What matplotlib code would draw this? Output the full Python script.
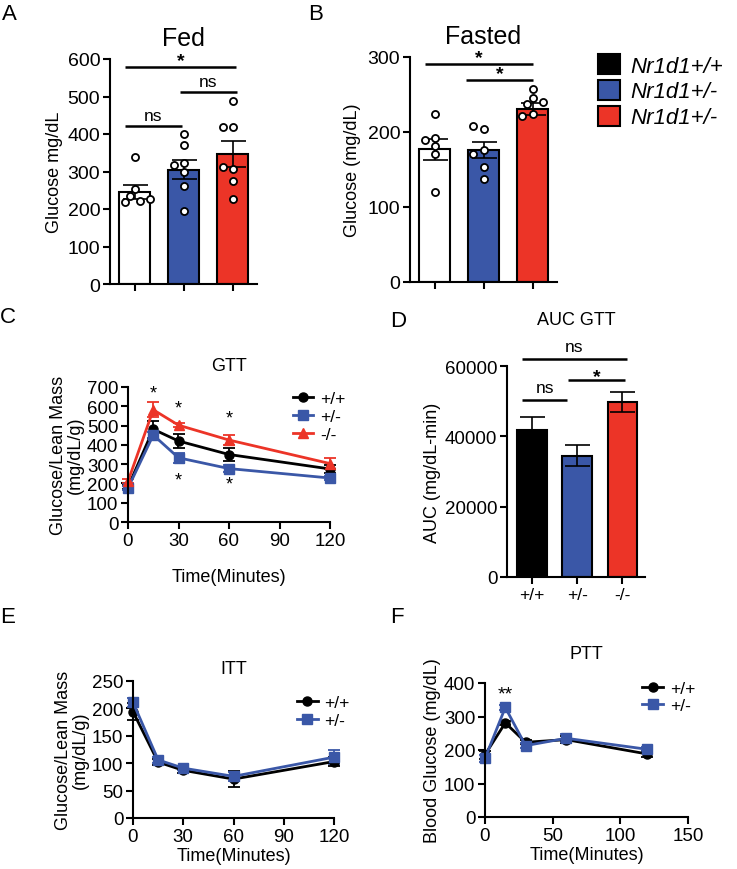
import numpy as np
import matplotlib
matplotlib.use("Agg")
import matplotlib.pyplot as plt
from matplotlib.patches import Patch
from matplotlib.lines import Line2D

plt.rcParams["font.family"] = ["Liberation Sans", "DejaVu Sans"]
plt.rcParams["axes.linewidth"] = 1.5
plt.rcParams["xtick.major.width"] = 1.5
plt.rcParams["ytick.major.width"] = 1.5
plt.rcParams["xtick.major.size"] = 5
plt.rcParams["ytick.major.size"] = 5

BLUE = "#3A57A7"
RED = "#EC3427"

genotypes = ["Nr1d1+/+", "Nr1d1+/-", "Nr1d1+/-"]
short_labels = ["+/+", "+/-", "-/-"]

# A: fed glucose (mg/dL)
fed_points = [[338, 253, 236, 222, 218, 228],
              [400, 372, 324, 318, 298, 262, 196],
              [489, 420, 420, 307, 311, 276, 227]]
fed_mean = [245, 305, 347]
fed_sem = [19, 25, 35]

# B: fasted glucose (mg/dL)
fasted_points = [[224, 192, 189, 181, 171, 120],
                 [204, 208, 176, 171, 153, 137],
                 [257, 246, 238, 240, 224, 222]]
fasted_mean = [177, 176, 231]
fasted_sem = [14, 11, 8]

# C: GTT
gtt_time = [0, 15, 30, 60, 120]
gtt_wt = [181, 481, 420, 350, 275]
gtt_wt_err = [12, 43, 35, 33, 22]
gtt_het = [176, 451, 333, 277, 228]
gtt_het_err = [10, 15, 25, 18, 12]
gtt_ko = [211, 582, 502, 425, 303]
gtt_ko_err = [10, 38, 10, 25, 30]

# D: AUC GTT
auc_mean = [41800, 34500, 49700]
auc_sem = [3600, 2900, 2900]

# E: ITT
itt_time = [0, 15, 30, 60, 120]
itt_wt = [194, 102, 87, 71, 103]
itt_wt_err = [15, 5, 4, 14, 8]
itt_het = [211, 106, 91, 76, 111]
itt_het_err = [8, 5, 4, 8, 13]

# F: PTT
ptt_time = [0, 15, 30, 60, 120]
ptt_wt = [186, 281, 223, 231, 188]
ptt_wt_err = [12, 6, 6, 10, 10]
ptt_het = [175, 327, 213, 235, 202]
ptt_het_err = [10, 8, 8, 12, 6]

W, H = 737, 870
fig = plt.figure(figsize=(W / 100, H / 100), dpi=100)


def px_axes(left, top, right, bottom):
    return fig.add_axes([left / W, 1 - bottom / H, (right - left) / W, (bottom - top) / H])


def style(ax, size=13.5):
    for s in ["top", "right"]:
        ax.spines[s].set_visible(False)
    ax.tick_params(labelsize=size, pad=2)


def swarm_x(ax, x0, vals, step=5.0, diam=7.5):
    """Spread overlapping dots sideways, in pixel space."""
    pts = ax.transData.transform([(x0, v) for v in vals])
    placed, xs = [], []
    for px, py in pts:
        for k in [0, -1, 1, -2, 2, -3, 3]:
            cx = px + k * step
            if all(np.hypot(cx - qx, py - qy) >= diam for qx, qy in placed):
                break
        placed.append((cx, py))
        xs.append(ax.transData.inverted().transform((cx, py))[0])
    return xs


def sig(ax, x1, x2, y, label, dy, size=12.5):
    ax.plot([x1, x2], [y, y], color="k", lw=1.8, clip_on=False, solid_capstyle="butt")
    ax.text((x1 + x2) / 2, y + dy, label, ha="center", va="bottom", fontsize=size,
            fontweight="bold" if label == "*" else "normal", clip_on=False)


def bar_panel(ax, means, sems, points, colors, ymax):
    x = np.arange(len(means))
    ax.bar(x, means, 0.64, color=colors, edgecolor="k", linewidth=1.5, zorder=1)
    ax.errorbar(x, means, yerr=sems, fmt="none", ecolor="k", elinewidth=1.2,
                capsize=9, capthick=1.2, zorder=2)
    ax.set_xlim(-0.5, 2.5)
    ax.set_ylim(0, ymax)
    if points is not None:
        for i, vals in enumerate(points):
            xs = swarm_x(ax, i, vals)
            ax.scatter(xs, vals, s=26, facecolor="white", edgecolor="k",
                       linewidth=1.3, zorder=3, clip_on=False)
    style(ax, 14)


bar_colors = ["white", BLUE, RED]

# ---- A: Fed
axA = px_axes(110, 60, 257, 285)
bar_panel(axA, fed_mean, fed_sem, fed_points, bar_colors, 600)
axA.set_xticks([0, 1, 2])
axA.set_xticklabels([])
axA.set_yticks(range(0, 601, 100))
axA.set_ylabel("Glucose mg/dL", fontsize=13, labelpad=3)
axA.set_title("Fed", fontsize=18, pad=10)
sig(axA, -0.2, 2.08, 578, "*", -6, 14)
sig(axA, 0.92, 2.1, 511, "ns", 8)
sig(axA, -0.2, 0.96, 422, "ns", 8)

# ---- B: Fasted
axB = px_axes(410, 58, 557, 283)
bar_panel(axB, fasted_mean, fasted_sem, fasted_points, bar_colors, 300)
axB.set_xticks([0, 1, 2])
axB.set_xticklabels([])
axB.set_yticks([0, 100, 200, 300])
axB.set_ylabel("Glucose (mg/dL)", fontsize=13, labelpad=5)
axB.set_title("Fasted", fontsize=18, pad=10)
sig(axB, -0.2, 2.0, 291, "*", -3, 14)
sig(axB, 0.65, 2.0, 270, "*", -3, 14)

# ---- legend top right
handles = [Patch(facecolor=c, edgecolor="k", linewidth=1.5) for c in ["black", BLUE, RED]]
fig.legend(handles, genotypes, loc="upper left", bbox_to_anchor=(598 / W, 1 - 55 / H),
           frameon=False, prop={"style": "italic", "size": 16},
           handlelength=1.0, handleheight=1.0, handletextpad=0.45, labelspacing=0.15,
           borderaxespad=0, borderpad=0)


def line_panel(ax, t, series, xmax, xticks, ymax, yticks):
    handles = []
    for y, err, c, m, lab in series:
        ax.errorbar(t, y, yerr=err, color=c, marker=m, markersize=6.5, lw=2,
                    capsize=4, elinewidth=1.3, capthick=1.3, clip_on=False)
        handles.append(Line2D([], [], color=c, marker=m, markersize=6.5, lw=2, label=lab))
    ax.set_xlim(0, xmax)
    ax.set_ylim(0, ymax)
    ax.set_xticks(xticks)
    ax.set_yticks(yticks)
    style(ax)
    ax.set_xlabel("Time(Minutes)", fontsize=13, labelpad=2)
    return handles


leg_kw = dict(loc="upper left", frameon=False, fontsize=12.5, handlelength=1.2,
              handletextpad=0.4, labelspacing=0.15, borderaxespad=0)

# ---- C: GTT
axC = px_axes(128, 388, 330, 523)
hC = line_panel(axC, gtt_time,
                [(gtt_wt, gtt_wt_err, "k", "o", "+/+"),
                 (gtt_het, gtt_het_err, BLUE, "s", "+/-"),
                 (gtt_ko, gtt_ko_err, RED, "^", "-/-")],
                120, [0, 30, 60, 90, 120], 700, range(0, 701, 100))
axC.xaxis.labelpad = 14
axC.set_ylabel("Glucose/Lean Mass\n(mg/dL/g)", fontsize=13, labelpad=2, linespacing=1.0)
axC.set_title("GTT", fontsize=13, pad=12)
for tx, ty in [(15, 625), (30, 548), (60, 495), (30, 175), (60, 152)]:
    axC.text(tx, ty, "*", ha="center", va="bottom", fontsize=13)
axC.legend(handles=hC, bbox_to_anchor=(0.78, 1.02), **leg_kw)

# ---- D: AUC GTT
axD = px_axes(507, 367, 645, 578)
xD = np.arange(3)
axD.bar(xD, auc_mean, 0.65, color=["black", BLUE, RED], edgecolor="k", linewidth=1.5)
axD.errorbar(xD, auc_mean, yerr=auc_sem, fmt="none", ecolor="k", elinewidth=1.2,
             capsize=9, capthick=1.2)
axD.set_xlim(-0.55, 2.5)
axD.set_ylim(0, 60000)
axD.set_yticks(range(0, 60001, 20000))
axD.set_xticks(xD)
axD.set_xticklabels(short_labels)
style(axD)
axD.tick_params(axis="x", labelsize=12.5)
axD.set_ylabel("AUC (mg/dL-min)", fontsize=13, labelpad=3)
axD.set_title("AUC GTT", fontsize=13, pad=30)
sig(axD, -0.22, 2.1, 62000, "ns", 1500)
sig(axD, 0.8, 2.05, 55900, "*", -1200, 14)
sig(axD, -0.22, 0.78, 50200, "ns", 1500)

# ---- E: ITT
axE = px_axes(133, 682, 334, 819)
hE = line_panel(axE, itt_time,
                [(itt_wt, itt_wt_err, "k", "o", "+/+"),
                 (itt_het, itt_het_err, BLUE, "s", "+/-")],
                120, [0, 30, 60, 90, 120], 250, range(0, 251, 50))
axE.set_ylabel("Glucose/Lean Mass\n(mg/dL/g)", fontsize=13, labelpad=2, linespacing=1.0)
axE.set_title("ITT", fontsize=13, pad=6)
axE.legend(handles=hE, bbox_to_anchor=(0.78, 0.95), **leg_kw)

# ---- F: PTT
axF = px_axes(485, 684, 688, 818)
hF = line_panel(axF, ptt_time,
                [(ptt_wt, ptt_wt_err, "k", "o", "+/+"),
                 (ptt_het, ptt_het_err, BLUE, "s", "+/-")],
                150, [0, 50, 100, 150], 400, range(0, 401, 100))
axF.set_ylabel("Blood Glucose (mg/dL)", fontsize=13, labelpad=2)
axF.set_title("PTT", fontsize=13, pad=18)
axF.text(15, 342, "**", ha="center", va="bottom", fontsize=14)
axF.legend(handles=hF, bbox_to_anchor=(0.74, 1.07), **leg_kw)

# panel letters
for lab, x, y in [("A", 2, 4), ("B", 308, 4), ("C", 0, 307), ("D", 390, 311),
                  ("E", 0, 607), ("F", 390, 607)]:
    fig.text(x / W, 1 - y / H, lab, fontsize=16, va="top", ha="left")

fig.savefig("out.png", dpi=100)
